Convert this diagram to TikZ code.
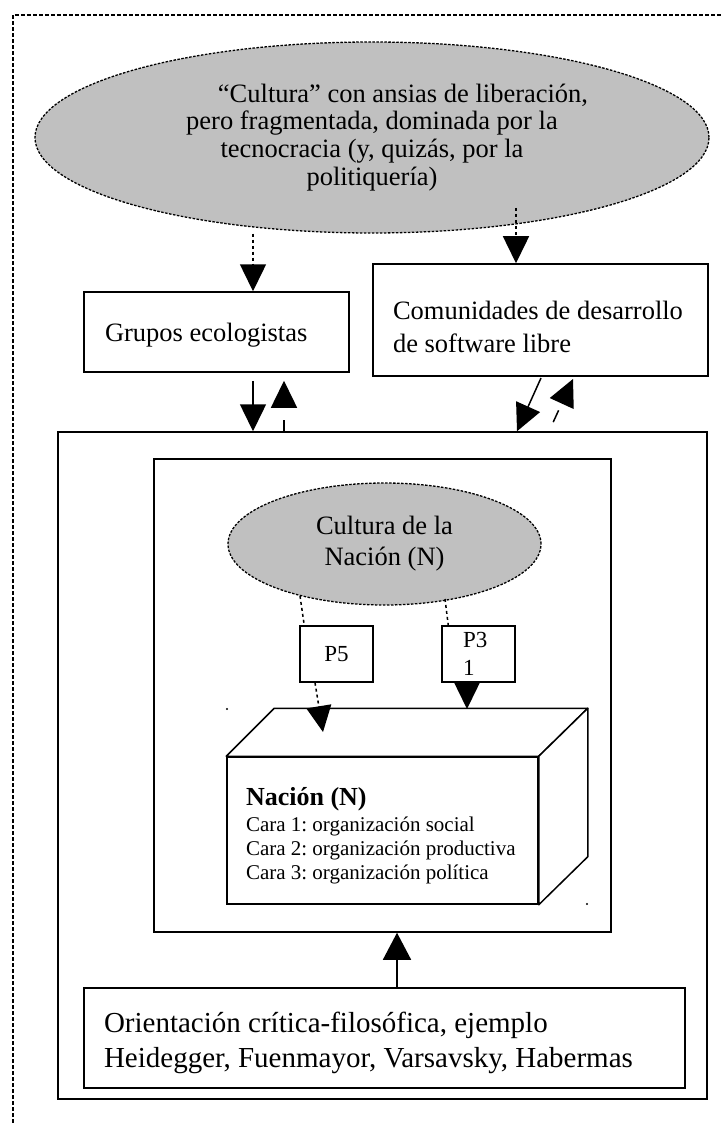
\documentclass[tikz,border=0pt]{standalone}
\usepackage{fontspec}
\setmainfont{Liberation Serif}
\usetikzlibrary{arrows.meta,shapes.geometric,calc}
\definecolor{cgray}{RGB}{192,192,192}
\frenchspacing
\begin{document}
\begin{tikzpicture}[x=1pt,y=-1pt,
  box/.style={draw,line width=1.5pt,rectangle,inner sep=0pt,fill=white},
  cloud/.style={ellipse,draw,fill=cgray,line width=1.3pt,dash pattern=on 2.5pt off 1.5pt,inner sep=0pt},
  arr/.style={line width=1.5pt,-{Triangle[width=26pt,length=27pt]}},
  sarr/.style={line width=1.5pt,-{Triangle[width=25pt,length=26pt]}},
  dotl/.style={line width=1.5pt,dash pattern=on 3pt off 3pt},
]
\useasboundingbox (0,0) rectangle (721,1123);
\fill[white] (0,0) rectangle (721,1123);

% outer dashed frame
\draw[line width=2pt,dash pattern=on 4pt off 2pt] (13,1123) -- (13,15) -- (721,15);

% top cloud
\node[cloud,minimum width=674pt,minimum height=191pt,align=flush center,font=\fontsize{26.5}{27.8}\selectfont] (bigell) at (372,137.5)
 {\hspace*{62pt}“Cultura” con ansias de liberación,\\pero fragmentada, dominada por la\\tecnocracia (y, quizás, por la\\politiquería)};

\node[box,minimum width=265pt,minimum height=80pt,inner xsep=21pt,text width=223pt,align=flush left,font=\fontsize{26.5}{30}\selectfont] (grupos) at (216.5,332) {\rule{0pt}{24pt}Grupos ecologistas};

\node[box,minimum width=335pt,minimum height=112pt,inner xsep=20pt,text width=295pt,align=flush left,font=\fontsize{26.5}{33}\selectfont] (comu) at (540.5,320) {\rule{0pt}{33pt}Comunidades de desarrollo\\de software libre};

\node[box,minimum width=649pt,minimum height=667pt] (bigbox) at (382.5,765.5) {};
\node[box,minimum width=457pt,minimum height=473pt] (inbox) at (382.5,695.5) {};

\node[cloud,minimum width=313pt,minimum height=122pt,align=flush center,font=\fontsize{26.5}{31}\selectfont] (smell) at (384.5,544) {Cultura de la\\Nación (N)};

\node[box,minimum width=73pt,minimum height=56pt,font=\fontsize{23}{28}\selectfont] (p5) at (336.5,654) {P5};
\node[box,minimum width=73pt,minimum height=56pt,inner xsep=21pt,text width=31pt,align=flush left,font=\fontsize{23}{28}\selectfont] (p3) at (478.5,654) {P3\\1};

% cuboid
\node[box,minimum width=311pt,minimum height=147pt,inner xsep=19pt,text width=273pt,align=flush left,font=\fontsize{21}{24}\selectfont] (cubo) at (382.5,830.5)
 {{\fontsize{26}{26}\selectfont\bfseries\rule{0pt}{28pt}Nación (N)}\\[2pt]Cara 1: organización social\\Cara 2: organización productiva\\Cara 3: organización política};
\draw[line width=1.5pt,line join=round,fill=white] (cubo.north west) -- ++(48,-48) -- ($(cubo.north east)+(49,-48)$) -- (cubo.north east) -- cycle;
\draw[line width=1.5pt,line join=round,fill=white] (cubo.north east) -- ($(cubo.north east)+(49,-48)$) -- ($(cubo.south east)+(49,-48)$) -- (cubo.south east) -- cycle;
\fill (227,709) circle (1.1pt);
\fill (587,904) circle (1.1pt);

\node[box,minimum width=601pt,minimum height=100pt,inner xsep=20pt,text width=561pt,align=flush left,font=\fontsize{29}{35}\selectfont] (orient) at (384.5,1038)
 {\rule{0pt}{31pt}Orientación crítica-filosófica, ejemplo\\Heidegger, Fuenmayor, Varsavsky, Habermas};

% connectors
\coordinate (gx) at (253,0);
\coordinate (ux) at (284,0);
\coordinate (cs) at (516,208);
\coordinate (a1s) at (541,378);
\coordinate (a1t) at (517,0);
\coordinate (b1s) at (549,0);
\coordinate (b1t) at (573,379);
\coordinate (e1) at (300,596);
\coordinate (e2) at (445,599);
\coordinate (p5s) at (315,0);
\coordinate (p5t) at (323,732);
\coordinate (p3x) at (467,0);
\coordinate (p3t) at (467,709);
\coordinate (ox) at (397,0);

\draw[arr,dotl] (bigell.south -| gx) -- (grupos.north -| gx);
\draw[arr,dotl] (cs) -- (comu.north -| cs);
\draw[arr] ($(grupos.south -| gx)+(0,8)$) -- (bigbox.north -| gx);
\draw[arr,dash pattern=on 11pt off 16pt] (bigbox.north -| ux) -- ($(grupos.south -| ux)+(0,8)$);
\draw[arr] (a1s) -- (bigbox.north -| a1t);
\draw[arr,dash pattern=on 13pt off 40pt,dash phase=43pt] (bigbox.north -| b1s) -- (b1t);

\draw[dotl] (e1) -- ($(p5.north west)+(5,0)$);
\draw[dotl] (e2) -- ($(p3.north west)+(7,0)$);
\draw[sarr,dotl] (p5.south -| p5s) -- (p5t);
\draw[sarr] (p3.south -| p3x) -- (p3t);

\draw[arr,-{Triangle[width=28pt,length=27pt]}] (orient.north -| ox) -- (inbox.south -| ox);
\end{tikzpicture}
\end{document}
